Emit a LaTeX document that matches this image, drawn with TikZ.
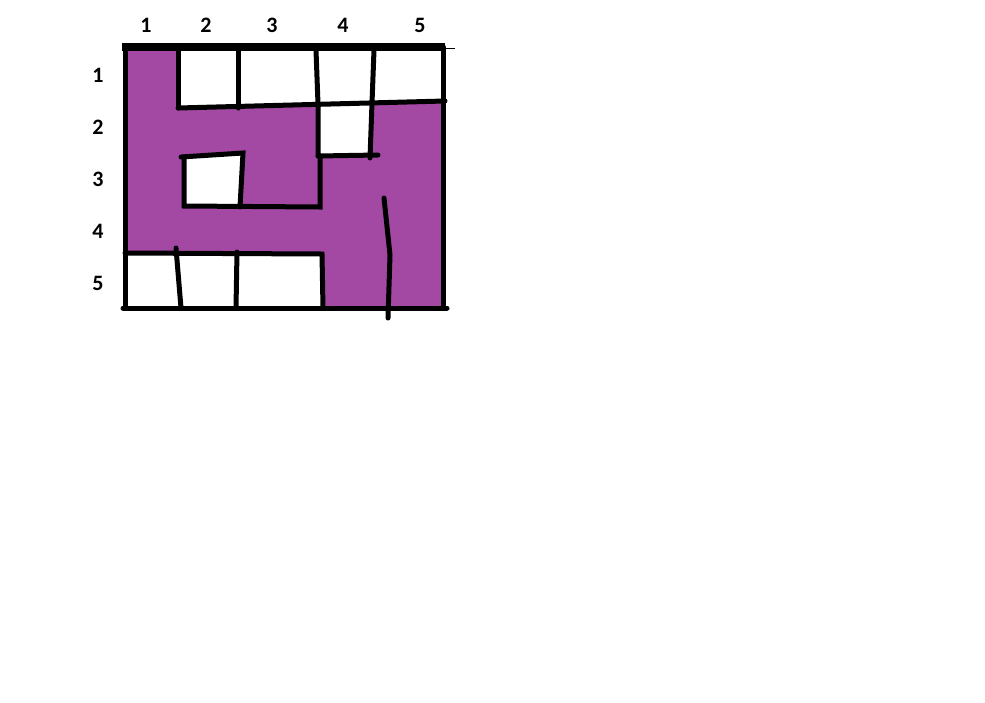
\documentclass[tikz,border=0pt]{standalone}
\usepackage{fontspec}
\setmainfont{Carlito}
\definecolor{mazefill}{RGB}{163,73,164}
\tikzset{
  wall/.style={line width=5pt,line cap=round},
  lbl/.style={font=\fontsize{22}{26}\selectfont\bfseries}
}
\begin{document}
\begin{tikzpicture}[x=1pt,y=-1pt]
\useasboundingbox (0,0) rectangle (985,702);
\fill[mazefill] (125,47) -- (178,47) -- (178,108) -- (318,105) -- (318,156) -- (372,156) -- (372,103) -- (443,101) -- (443,308) -- (323,308) -- (322,254) -- (125,253) -- cycle;
\fill[white] (183,157) -- (242,153) -- (240,207) -- (184,206) -- cycle;

\draw[line width=8pt] (122,47) -- (445,47);
\draw[line width=1pt] (443,48) -- (455,48);
\draw[wall] (125,47) -- (125,308);
\draw[wall] (443,47) -- (443,308);
\draw[wall] (123,308) -- (447,308);

\draw[wall] (178,50) -- (178,108);
\draw[wall] (238,50) -- (238,108);
\draw[wall] (316,50) -- (318,104) -- (318,156);
\draw[wall] (374,50) -- (372,103) -- (370,158);
\draw[wall] (178,108) -- (445,101);
\draw[wall] (318,156) -- (378,155);

\draw[wall] (181,157) -- (243,153) -- (240,207);
\draw[wall] (184,157) -- (184,206) -- (320,207) -- (320,156);

\draw[wall] (125,253) -- (322,254) -- (323,308);
\draw[wall] (176,248) -- (181,308);
\draw[wall] (237,252) -- (236,308);
\draw[wall] (384,198) -- (390,255) -- (388,318);

\node[lbl] (c1) at (146,25) {1};
\node[lbl] (c2) at (206,25) {2};
\node[lbl] (c3) at (272,25) {3};
\node[lbl] (c4) at (343,25) {4};
\node[lbl] (c5) at (420,25) {5};
\node[lbl] (r1) at (98,75) {1};
\node[lbl] (r2) at (98,127) {2};
\node[lbl] (r3) at (98,179) {3};
\node[lbl] (r4) at (98,231) {4};
\node[lbl] (r5) at (98,283) {5};
\end{tikzpicture}
\end{document}
